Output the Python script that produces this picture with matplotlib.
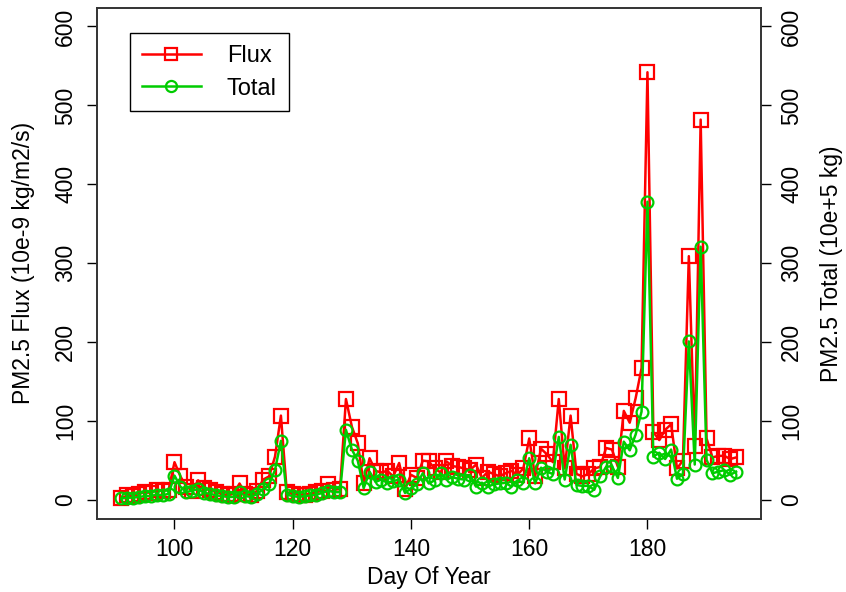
import numpy as np
import matplotlib
matplotlib.use("Agg")
import matplotlib.pyplot as plt

plt.rcParams["font.family"] = ["Liberation Sans", "DejaVu Sans"]

# Day of year 91..195
days = np.arange(91, 196)

# PM2.5 flux (10e-9 kg/m2/s)
flux = [
    2, 6, 5, 8, 10, 9, 13, 12, 13,              # 91-99
    48, 30, 17, 12, 25, 15, 13, 10, 8, 6,       # 100-109
    8, 21, 8, 6, 12, 26, 30, 55, 107, 10,       # 110-119
    8, 7, 7, 8, 10, 12, 20, 13, 14, 128,        # 120-129
    93, 72, 21, 53, 37, 35, 37, 30, 47, 14,     # 130-139
    32, 28, 50, 49, 40, 35, 49, 43, 42, 40,     # 140-149
    38, 45, 28, 36, 33, 30, 34, 37, 32, 40,     # 150-159
    78, 30, 65, 58, 48, 128, 40, 107, 33, 30,   # 160-169
    33, 40, 42, 66, 64, 42, 113, 98, 129, 167,  # 170-179
    542, 86, 76, 89, 96, 40, 50, 309, 68, 482,  # 180-189
    78, 54, 56, 56, 52, 54,                     # 190-195
]

# PM2.5 total (10e+5 kg)
total = [
    2, 3, 3, 4, 5, 5, 7, 6, 8,                  # 91-99
    31, 17, 10, 12, 14, 9, 8, 6, 5, 4,          # 100-109
    4, 10, 5, 4, 8, 14, 20, 38, 75, 7,          # 110-119
    5, 4, 5, 6, 7, 9, 12, 10, 10, 89,           # 120-129
    64, 50, 15, 36, 23, 26, 22, 24, 26, 9,      # 130-139
    15, 20, 34, 21, 25, 34, 26, 29, 27, 26,     # 140-149
    32, 17, 22, 17, 20, 21, 22, 17, 25, 22,     # 150-159
    53, 21, 41, 36, 33, 80, 26, 70, 19, 18,     # 160-169
    18, 13, 30, 42, 43, 28, 74, 63, 83, 112,    # 170-179
    378, 55, 60, 52, 64, 27, 33, 201, 45, 321,  # 180-189
    51, 34, 36, 38, 32, 36,                     # 190-195
]

yticks = [0, 100, 200, 300, 400, 500, 600]
xticks = [100, 120, 140, 160, 180]

red = "#FF0000"
green = "#00CC00"
fs = 16.5

fig = plt.figure(figsize=(8.46, 5.92), dpi=100)
ax = fig.add_axes([0.1143, 0.1233, 0.7849, 0.864])

l1, = ax.plot(days, flux, color=red, lw=1.8, marker="s", ms=9.5,
              mfc="none", mec=red, mew=1.6, label="Flux")
ax.set_xlim(86.84, 199.16)
ax.set_ylim(-24, 624)
ax.set_xticks(xticks)
ax.set_yticks(yticks)
ax.set_xlabel("Day Of Year", fontsize=fs, labelpad=3)
ax.set_ylabel("PM2.5 Flux (10e-9 kg/m2/s)", fontsize=fs, labelpad=14)
ax.tick_params(axis="x", labelsize=fs, length=7, width=1, pad=7)
ax.tick_params(axis="y", labelsize=fs, length=7, width=1, pad=7,
               labelrotation=90)
for lab in ax.get_yticklabels():
    lab.set_va("center")

ax2 = ax.twinx()
l2, = ax2.plot(days, total, color=green, lw=1.8, marker="o", ms=8.5,
               mfc="none", mec=green, mew=1.6, label="Total")
ax2.set_ylim(-24, 624)
ax2.set_yticks(yticks)
ax2.set_ylabel("PM2.5 Total (10e+5 kg)", fontsize=fs, labelpad=12)
ax2.tick_params(axis="y", labelsize=fs, length=7, width=1, pad=7,
                labelrotation=90)
for lab in ax2.get_yticklabels():
    lab.set_va("center")

for a in (ax, ax2):
    for s in a.spines.values():
        s.set_color("#333333")
        s.set_linewidth(1.2)

leg = ax2.legend(handles=[l1, l2], loc="upper left",
                 bbox_to_anchor=(0.05, 0.95), borderaxespad=0,
                 fancybox=False, framealpha=1, edgecolor="black",
                 fontsize=17, handlelength=2.5, borderpad=0.5,
                 labelspacing=0.45, handletextpad=1.1)
leg.get_frame().set_linewidth(1.0)
for h in leg.legend_handles:
    h.set_markersize(8)

fig.savefig("out.png", dpi=100)
